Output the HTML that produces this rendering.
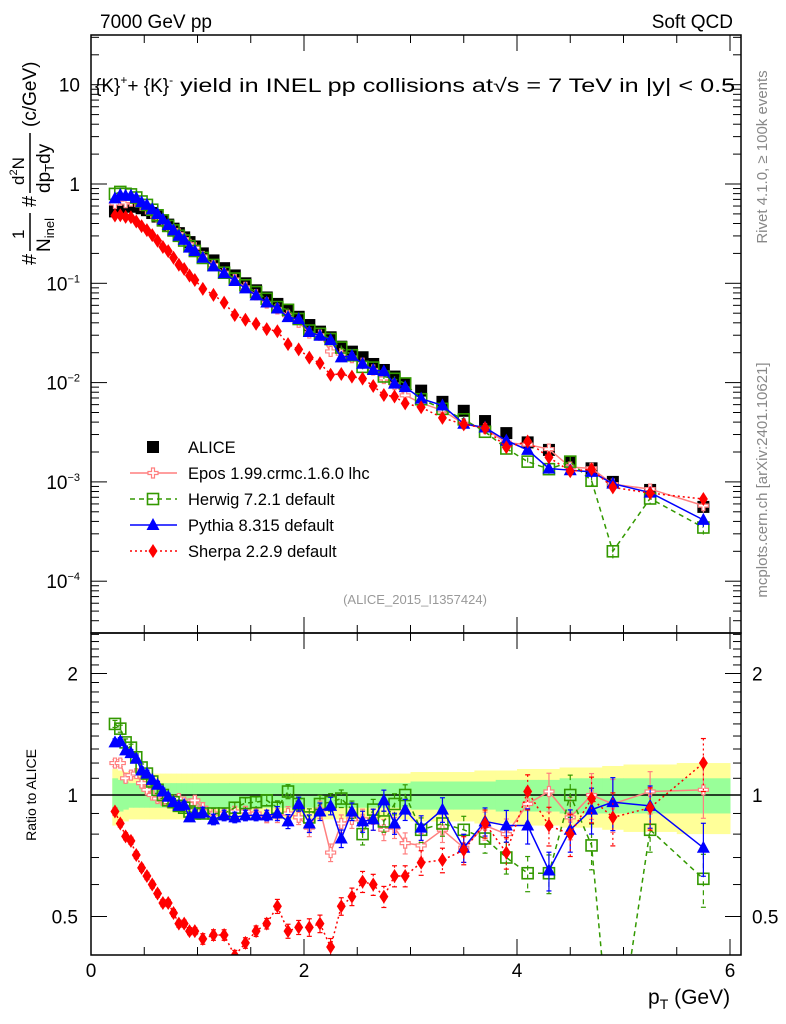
<!DOCTYPE html>
<html><head><meta charset="utf-8"><style>
html,body{margin:0;padding:0;background:#fff;overflow:hidden}
svg{display:block;font-family:"Liberation Sans",Arial,sans-serif}
</style></head><body>
<svg id="chart" width="786" height="1024" xmlns="http://www.w3.org/2000/svg">
<defs>
<clipPath id="clipTop"><rect x="91" y="35" width="650" height="598"/></clipPath>
<clipPath id="clipBot"><rect x="91" y="633" width="650" height="322"/></clipPath>
</defs>
<rect x="0" y="0" width="786" height="1024" fill="#fff"/>
<g id="bands" clip-path="url(#clipBot)"></g>
<g id="gridline"></g>
<g id="series-top" clip-path="url(#clipTop)"></g>
<g id="series-bot" clip-path="url(#clipBot)"></g>
<g id="axes"></g>
<text x="100" y="28" font-size="19">7000 GeV pp</text>
<text x="733" y="28" font-size="19" text-anchor="end">Soft QCD</text>
<text x="95" y="92" font-size="19">{K}<tspan dy="-8" font-size="12">+</tspan><tspan dy="8">+ {K}</tspan><tspan dy="-8" font-size="12">-</tspan><tspan dy="8" textLength="562" lengthAdjust="spacingAndGlyphs"> yield in INEL pp collisions at√s =  7 TeV in |y| &lt; 0.5</tspan></text>
<text x="415" y="604" font-size="13" fill="#999" text-anchor="middle">(ALICE_2015_I1357424)</text>
<text transform="translate(767,157) rotate(-90)" font-size="15" fill="#888" text-anchor="middle">Rivet 4.1.0, ≥ 100k events</text>
<text transform="translate(767,480) rotate(-90)" font-size="15" fill="#888" text-anchor="middle">mcplots.cern.ch [arXiv:2401.10621]</text>
<g transform="translate(36,155) rotate(-90)" font-size="20">
<text x="-110" y="0">#</text>
<text x="-84" y="-12" font-size="17">1</text>
<line x1="-96" y1="-6" x2="-58" y2="-6" stroke="#000" stroke-width="1.5"/>
<text x="-97" y="14" font-size="19">N<tspan font-size="13" dy="4">inel</tspan></text>
<text x="-52" y="0">#</text>
<text x="-30" y="-12" font-size="17">d<tspan font-size="11" dy="-7">2</tspan><tspan dy="7">N</tspan></text>
<line x1="-38" y1="-6" x2="22" y2="-6" stroke="#000" stroke-width="1.5"/>
<text x="-38" y="14" font-size="19">dp<tspan font-size="13" dy="4">T</tspan><tspan dy="-4">dy</tspan></text>
<text x="28" y="0" font-size="19">(c/GeV)</text>
</g>
<text transform="translate(36,795) rotate(-90)" font-size="14" text-anchor="middle">Ratio to ALICE</text>
<text x="648" y="1004" font-size="21">p<tspan font-size="14" dy="5">T</tspan><tspan dy="-5"> (GeV)</tspan></text>
<g id="legend"></g>
</svg>
<script>
const pT = [0.225,0.275,0.325,0.375,0.425,0.475,0.525,0.575,0.625,0.675,0.725,0.775,0.825,0.875,0.925,0.975,
1.05,1.15,1.25,1.35,1.45,1.55,1.65,1.75,1.85,1.95,2.05,2.15,2.25,2.35,2.45,2.55,2.65,2.75,2.85,2.95,
3.1,3.3,3.5,3.7,3.9,4.1,4.3,4.5,4.7,4.9,5.25,5.75];
const binLo = [0.2,0.25,0.3,0.35,0.4,0.45,0.5,0.55,0.6,0.65,0.7,0.75,0.8,0.85,0.9,0.95,
1.0,1.1,1.2,1.3,1.4,1.5,1.6,1.7,1.8,1.9,2.0,2.1,2.2,2.3,2.4,2.5,2.6,2.7,2.8,2.9,
3.0,3.2,3.4,3.6,3.8,4.0,4.2,4.4,4.6,4.8,5.0,5.5];
const binHi = [0.25,0.3,0.35,0.4,0.45,0.5,0.55,0.6,0.65,0.7,0.75,0.8,0.85,0.9,0.95,1.0,
1.1,1.2,1.3,1.4,1.5,1.6,1.7,1.8,1.9,2.0,2.1,2.2,2.3,2.4,2.5,2.6,2.7,2.8,2.9,3.0,
3.2,3.4,3.6,3.8,4.0,4.2,4.4,4.6,4.8,5.0,5.5,6.0];
const alice = [0.53,0.57,0.59,0.6,0.59,0.57,0.545,0.51,0.47,0.43,0.39,0.355,0.32,0.29,0.26,0.235,
0.2,0.17,0.142,0.12,0.1,0.085,0.072,0.062,0.053,0.046,0.038,0.0326,0.0286,0.023,0.0205,0.018,0.0154,0.0134,0.0115,0.0098,
0.0083,0.0064,0.0052,0.0041,0.0031,0.0025,0.0021,0.0016,0.00137,0.001,0.00083,0.00056];
const statErr = [0.1,0.09,0.08,0.07,0.07,0.07,0.07,0.07,0.07,0.07,0.07,0.07,0.07,0.07,0.07,0.07,
0.07,0.07,0.07,0.07,0.07,0.07,0.07,0.07,0.07,0.07,0.07,0.07,0.07,0.07,0.07,0.07,0.07,0.07,0.07,0.07,
0.08,0.08,0.08,0.08,0.09,0.09,0.09,0.1,0.1,0.1,0.1,0.1];
const totErr = [0.16,0.15,0.14,0.13,0.13,0.13,0.13,0.13,0.13,0.13,0.13,0.13,0.13,0.13,0.13,0.13,
0.13,0.13,0.13,0.13,0.13,0.13,0.13,0.13,0.13,0.13,0.13,0.13,0.13,0.13,0.13,0.13,0.13,0.13,0.13,0.13,
0.14,0.14,0.14,0.15,0.15,0.16,0.16,0.17,0.17,0.18,0.19,0.2];
const ratioEpos = [1.2,1.2,1.1,1.12,1.13,1.07,1.03,1.0,0.98,0.97,0.96,0.97,0.98,0.96,0.95,0.97,
0.93,0.9,0.9,0.91,0.91,0.9,0.88,0.89,0.9,0.88,0.83,0.92,0.72,0.85,0.87,0.87,0.87,0.82,0.83,0.76,
0.75,0.82,0.74,0.84,0.8,0.95,1.02,0.88,1.0,0.95,1.02,1.03];
const ratioHerwig = [1.5,1.46,1.35,1.31,1.24,1.17,1.13,1.08,1.03,1.0,0.97,0.96,0.94,0.93,0.91,0.9,
0.9,0.9,0.9,0.93,0.955,0.96,0.97,0.93,1.02,0.95,0.88,0.95,0.96,0.98,0.92,0.8,0.92,0.86,0.95,1.0,
0.82,0.85,0.82,0.78,0.7,0.64,0.64,1.0,0.75,0.2,0.82,0.62];
const ratioPythia = [1.35,1.36,1.29,1.27,1.23,1.15,1.13,1.09,1.06,1.02,0.99,0.96,0.94,0.945,0.88,0.9,
0.905,0.87,0.89,0.88,0.89,0.89,0.89,0.9,0.86,0.95,0.85,0.91,0.94,0.78,0.91,0.86,0.87,0.97,0.85,0.92,
0.83,0.92,0.74,0.86,0.84,0.84,0.65,0.82,0.92,0.96,0.94,0.74];
const ratioSherpa = [0.91,0.85,0.79,0.77,0.71,0.66,0.63,0.6,0.57,0.54,0.54,0.51,0.48,0.48,0.46,0.46,
0.44,0.45,0.45,0.4,0.43,0.46,0.48,0.53,0.46,0.47,0.47,0.48,0.42,0.53,0.56,0.61,0.6,0.56,0.63,0.63,
0.68,0.69,0.73,0.85,0.72,1.02,0.84,0.8,0.98,0.88,0.93,1.2];
const mcErr = [0.02,0.02,0.02,0.02,0.02,0.02,0.02,0.02,0.02,0.02,0.02,0.02,0.02,0.02,0.02,0.02,
0.03,0.03,0.03,0.03,0.03,0.03,0.03,0.04,0.04,0.04,0.05,0.05,0.05,0.05,0.05,0.06,0.06,0.06,0.06,0.06,
0.07,0.07,0.08,0.08,0.09,0.1,0.11,0.12,0.13,0.15,0.12,0.15];
const yTickLabels = ["10","1","10<tspan font-size='11' dy='-8'>−1</tspan>","10<tspan font-size='11' dy='-8'>−2</tspan>","10<tspan font-size='11' dy='-8'>−3</tspan>","10<tspan font-size='11' dy='-8'>−4</tspan>"];
const yTickExp = [1,0,-1,-2,-3,-4];
const rTicks = [0.5,1,2];
const rTickLabels = ["0.5","1","2"];
const xTicks = [0,2,4,6];

const NS="http://www.w3.org/2000/svg";
const X0=91,X1=741,TT=35,TB=633,BT=633,BB=955;
const sx=v=>X0+v*106.5;
const sy=v=>184-99.3*Math.log10(v);
const sr=v=>795-121.5*Math.log2(v);
function mk(tag,attrs,parent){const e=document.createElementNS(NS,tag);for(const k in attrs)e.setAttribute(k,attrs[k]);parent.appendChild(e);return e;}
const axesG=document.getElementById('axes');
const bandsG=document.getElementById('bands');
const topG=document.getElementById('series-top');
const botG=document.getElementById('series-bot');

for(let i=0;i<pT.length;i++){
  const a=sx(binLo[i]),b=sx(binHi[i]);
  let r=mk('rect',{x:a,y:sr(1+totErr[i]),width:b-a+0.5,height:sr(1-totErr[i])-sr(1+totErr[i]),fill:'#ffff99'},bandsG);
  
  
}
for(let i=0;i<pT.length;i++){
  const a=sx(binLo[i]),b=sx(binHi[i]);
  let r=mk('rect',{x:a,y:sr(1+statErr[i]),width:b-a+0.5,height:sr(1-statErr[i])-sr(1+statErr[i]),fill:'#99ff99'},bandsG);
  
  
}
mk('line',{x1:X0,x2:X1,y1:sr(1),y2:sr(1),stroke:'#000','stroke-width':1.5},document.getElementById('gridline'));

function marker(kind,x,y,col,g){
  let e;
  if(kind==='sq') e=mk('rect',{x:x-6,y:y-6,width:12,height:12,fill:'#000'},g);
  else if(kind==='osq') e=mk('rect',{x:x-5.5,y:y-5.5,width:11,height:11,fill:'none',stroke:col,'stroke-width':1.6},g);
  else if(kind==='tri') e=mk('polygon',{points:`${x},${y-7} ${x-6.5},${y+5} ${x+6.5},${y+5}`,fill:col},g);
  else if(kind==='dia') e=mk('polygon',{points:`${x},${y-7} ${x-4.5},${y} ${x},${y+7} ${x+4.5},${y}`,fill:col},g);
  else if(kind==='cross') e=mk('polygon',{points:`${x-1.5},${y-5} ${x+1.5},${y-5} ${x+1.5},${y-1.5} ${x+5},${y-1.5} ${x+5},${y+1.5} ${x+1.5},${y+1.5} ${x+1.5},${y+5} ${x-1.5},${y+5} ${x-1.5},${y+1.5} ${x-5},${y+1.5} ${x-5},${y-1.5} ${x-1.5},${y-1.5}`,fill:'#fff',stroke:col,'stroke-width':1.2},g);
  return e;
}
const series=[
 {name:'epos',ratio:ratioEpos,col:'#ff7f7f',dash:'',kind:'cross',label:'Epos 1.99.crmc.1.6.0 lhc'},
 {name:'herwig',ratio:ratioHerwig,col:'#339900',dash:'5,4',kind:'osq',label:'Herwig 7.2.1 default'},
 {name:'pythia',ratio:ratioPythia,col:'#0000ff',dash:'',kind:'tri',label:'Pythia 8.315 default'},
 {name:'sherpa',ratio:ratioSherpa,col:'#ff0000',dash:'2,3',kind:'dia',label:'Sherpa 2.2.9 default'}
];
for(let i=0;i<pT.length;i++){
  const m=marker('sq',sx(pT[i]),sy(alice[i]),'#000',topG);
  
  
}
for(const s of series){
  const vals=pT.map((p,i)=>alice[i]*s.ratio[i]);
  const pts=pT.map((p,i)=>sx(p)+','+sy(vals[i])).join(' ');
  const l1=mk('polyline',{points:pts,fill:'none',stroke:s.col,'stroke-width':1.5,'stroke-dasharray':s.dash},topG);
  
  
  const pts2=pT.map((p,i)=>sx(p)+','+sr(s.ratio[i])).join(' ');
  const l2=mk('polyline',{points:pts2,fill:'none',stroke:s.col,'stroke-width':1.5,'stroke-dasharray':s.dash},botG);
  
  
  for(let i=0;i<pT.length;i++){
    const x=sx(pT[i]);
    const e=mcErr[i];
    mk('line',{x1:x,x2:x,y1:sy(vals[i]*(1+e)),y2:sy(vals[i]*(1-e)),stroke:s.col,'stroke-width':1.2,'stroke-dasharray':s.dash},topG);
    const ra=sr(s.ratio[i]*(1+e)),rb=sr(s.ratio[i]*(1-e));
    mk('line',{x1:x,x2:x,y1:ra,y2:rb,stroke:s.col,'stroke-width':1.2,'stroke-dasharray':s.dash},botG);
    mk('line',{x1:x-2.5,x2:x+2.5,y1:ra,y2:ra,stroke:s.col,'stroke-width':1.2},botG);
    mk('line',{x1:x-2.5,x2:x+2.5,y1:rb,y2:rb,stroke:s.col,'stroke-width':1.2},botG);
    const m1=marker(s.kind,x,sy(vals[i]),s.col,topG);
    
    
    const m2=marker(s.kind,x,sr(s.ratio[i]),s.col,botG);
    
    
  }
}
mk('rect',{x:X0,y:TT,width:X1-X0,height:TB-TT,fill:'none',stroke:'#000','stroke-width':1.5},axesG);
mk('rect',{x:X0,y:BT,width:X1-X0,height:BB-BT,fill:'none',stroke:'#000','stroke-width':1.5},axesG);
for(let k=0;k<=12;k++){
  const v=k*0.5;
  const x=sx(v);const maj=(k%4===0);const L=maj?16:8;
  for(const [a,b] of [[TT,TB],[BT,BB]]){
    mk('line',{x1:x,x2:x,y1:b,y2:b-L,stroke:'#000','stroke-width':1},axesG);
    mk('line',{x1:x,x2:x,y1:a,y2:a+L,stroke:'#000','stroke-width':1},axesG);
  }
}
for(const v of xTicks){
  const t=mk('text',{x:sx(v),y:977,'font-size':19,'text-anchor':'middle'},axesG);
  t.textContent=v;
  
  
}
for(let d=-5;d<=1;d++){
  for(let k=1;k<=9;k++){
    const v=k*Math.pow(10,d);const y=sy(v);
    if(y<TT||y>TB)continue;
    const L=k===1?16:8;
    mk('line',{x1:X0,x2:X0+L,y1:y,y2:y,stroke:'#000','stroke-width':1},axesG);
    mk('line',{x1:X1,x2:X1-L,y1:y,y2:y,stroke:'#000','stroke-width':1},axesG);
  }
}
yTickExp.forEach((e,i)=>{
  const t=mk('text',{x:80,y:sy(Math.pow(10,e))+7,'font-size':19,'text-anchor':'end'},axesG);
  t.innerHTML=yTickLabels[i];
  
  
});
for(let k=4;k<=25;k++){
  const v=k/10;
  const y=sr(v);if(y<BT||y>BB)continue;
  const maj=(k===5||k===10||k===20);const L=maj?16:8;
  mk('line',{x1:X0,x2:X0+L,y1:y,y2:y,stroke:'#000','stroke-width':1},axesG);
  mk('line',{x1:X1,x2:X1-L,y1:y,y2:y,stroke:'#000','stroke-width':1},axesG);
}
rTicks.forEach((v,i)=>{
  const t=mk('text',{x:78,y:sr(v)+7,'font-size':19,'text-anchor':'end'},axesG);
  t.textContent=rTickLabels[i];
  
  
  const t2=mk('text',{x:752,y:sr(v)+7,'font-size':19},axesG);
  t2.textContent=rTickLabels[i];
  
  
});
const lg=document.getElementById('legend');
const rows=[{kind:'sq',col:'#000',label:'ALICE',dash:null}].concat(series);
rows.forEach((s,i)=>{
  const y=447+26*i;
  const g=mk('g',{},lg);
  
  
  if(s.dash!==null) mk('line',{x1:130,x2:177,y1:y,y2:y,stroke:s.col,'stroke-width':1.5,'stroke-dasharray':s.dash},g);
  marker(s.kind,153,y,s.col,g);
  const t=mk('text',{x:188,y:y+6,'font-size':16.5},g);
  t.textContent=s.label;
});
</script>
</body></html>
